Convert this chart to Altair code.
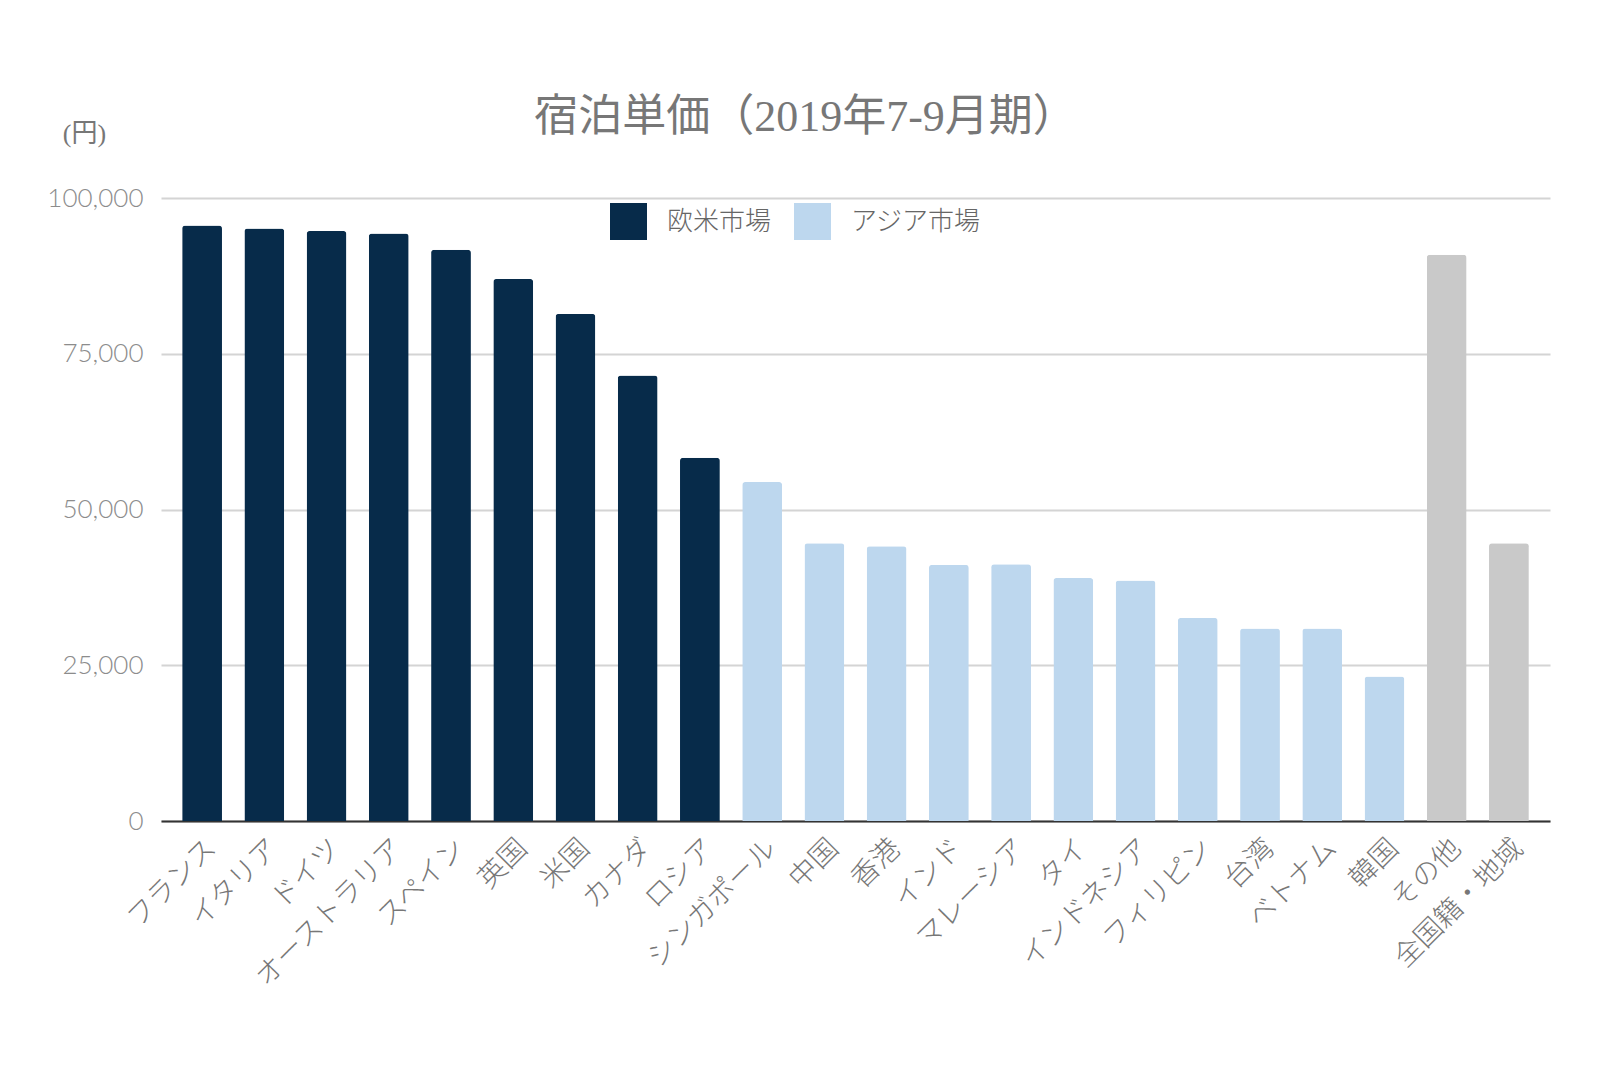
import altair as alt
import pandas as pd

countries = ["フランス", "イタリア", "ドイツ", "オーストラリア", "スペイン", "英国", "米国", "カナダ", "ロシア",
             "シンガポール", "中国", "香港", "インド", "マレーシア", "タイ", "インドネシア", "フィリピン", "台湾",
             "ベトナム", "韓国", "その他", "全国籍・地域"]
prices = [95600, 95100, 94700, 94300, 91700, 87000, 81400, 71500, 58300,
          54400, 44600, 44100, 41100, 41200, 39000, 38600, 32600, 30900,
          30900, 23200, 90900, 44600]
groups = ["欧米市場"] * 9 + ["アジア市場"] * 11 + ["その他"] * 2

group_domain = ["欧米市場", "アジア市場", "その他"]
group_colors = ["#072b4a", "#bdd7ee", "#c9c9c9"]
y_ticks = [0, 25000, 50000, 75000, 100000]

df = pd.DataFrame({"国": countries, "宿泊単価": prices, "市場": groups})

JP = "Noto Sans CJK JP"

chart = alt.Chart(df).mark_bar(
    cornerRadiusTopLeft=3, cornerRadiusTopRight=3
).encode(
    x=alt.X("国:N", sort=countries,
            scale=alt.Scale(paddingInner=0.36, paddingOuter=0.34),
            axis=alt.Axis(title=None, labelAngle=-45, labelFontSize=28, labelFont=JP,
                          labelFontWeight=300, labelColor="#777777", labelPadding=13,
                          labelLimit=0,
                          ticks=False, domainColor="#333333", domainWidth=2)),
    y=alt.Y("宿泊単価:Q",
            scale=alt.Scale(domain=[0, 100000], nice=False),
            axis=alt.Axis(values=y_ticks, format=",.0f", title="(円)", titleAngle=0,
                          titleX=-77, titleY=-65, titleAlign="center", titleBaseline="middle",
                          titleFont="Liberation Serif, Noto Sans CJK JP", titleFontSize=26,
                          titleFontWeight="normal", titleColor="#777777",
                          labelFont="Lato", labelFontWeight=300, labelFontSize=26,
                          labelColor="#8c8c8c", labelPadding=18,
                          ticks=False, domain=False,
                          gridColor="#d4d4d4", gridWidth=2)),
    color=alt.Color("市場:N",
                    scale=alt.Scale(domain=group_domain, range=group_colors),
                    legend=alt.Legend(values=["欧米市場", "アジア市場"], title=None,
                                      orient="none", legendX=449, legendY=5,
                                      direction="horizontal", symbolType="square",
                                      symbolSize=1369, symbolStrokeWidth=0, symbolOpacity=1,
                                      labelFont=JP, labelFontWeight=300, labelFontSize=26,
                                      labelColor="#666666", labelOffset=20, columnPadding=22)),
).properties(
    width=1389,
    height=623,
    title=alt.TitleParams("宿泊単価（2019年7-9月期）", font="Liberation Serif, Noto Sans CJK JP",
                          fontSize=44, fontWeight="normal", color="#777777",
                          anchor="middle", frame="group", dx=-50, offset=-20),
    autosize=alt.AutoSizeParams(type="none"),
    padding={"left": 153, "top": 190, "right": 40, "bottom": 220},
).configure_view(stroke=None)

chart.save("out.html", embed_options={"renderer": "svg", "actions": False})
